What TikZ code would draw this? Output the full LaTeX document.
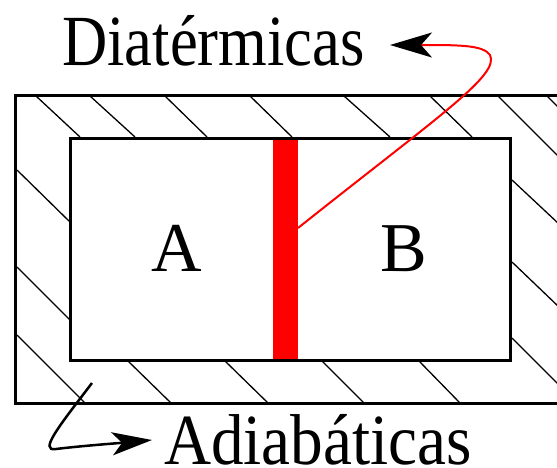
\documentclass[tikz,border=0pt]{standalone}
\usepackage{fontspec}
\setmainfont{Liberation Serif}
\usetikzlibrary{arrows.meta}
\tikzset{
  wall/.style={draw=black, line width=3pt},
  hatch/.style={draw=black, line width=1.3pt},
  lbl/.style={inner sep=0pt, font=\fontsize{70}{84}\selectfont},
  biglbl/.style={inner sep=0pt, font=\fontsize{72}{86}\selectfont},
  diat/.style={draw=red, line width=2pt},
}
\begin{document}
\begin{tikzpicture}[x=1pt,y=-1pt]
\useasboundingbox (0,0) rectangle (557,467);
\clip (0,0) rectangle (557,467);
% hatching
\foreach \a/\b/\c/\d in {36/96/80/137, 90/96/135/137, 165/96/207/137, 250/96/292/137,
  344/96/390/137, 430/96/472/137, 498/96/559/157, 547/96/559/108,
  17/170/70/222, 17/267/70/320, 17/335/85/403,
  128/361/171/403, 225/361/268/403, 322/361/364/403, 419/361/460/403,
  512/180/559/224, 512/262/559/307, 512/338/559/385}
  \draw[hatch] (\a,\b) -- (\c,\d);
% walls
\draw[wall] (15,95) rectangle (590,403);
\draw[wall] (70,138) rectangle (510,360);
% diathermic wall
\fill[red] (273,139.5) rectangle (298,358.5);
\coordinate (bar) at (298,228);
% labels
\node[lbl, anchor=base] (A) at (177,271) {A};
\node[lbl, anchor=base] (B) at (404,271) {B};
\node[biglbl, anchor=base west, xscale=0.87] (diat) at (62,65) {Diatérmicas};
\node[biglbl, anchor=base west, xscale=0.905] (adia) at (164,464) {Adiabáticas};
% connectors
\coordinate (dtip) at (390,45);
\coordinate (atip) at (152,440);
\coordinate (astart) at (92,383);
\draw[diat, -{Stealth[black, length=42pt, width=25pt, inset=11pt]}]
  (bar) .. controls (440,115) and (500,75) .. (490,55)
        .. controls (483,45) and (460,45) .. (dtip);
\draw[black, line width=2.5pt, -{Stealth[black, length=40pt, width=23pt, inset=10pt]}]
  (astart) .. controls (60,425) and (38,452) .. (56,449)
           .. controls (80,446) and (120,443) .. (atip);
\end{tikzpicture}
\end{document}
